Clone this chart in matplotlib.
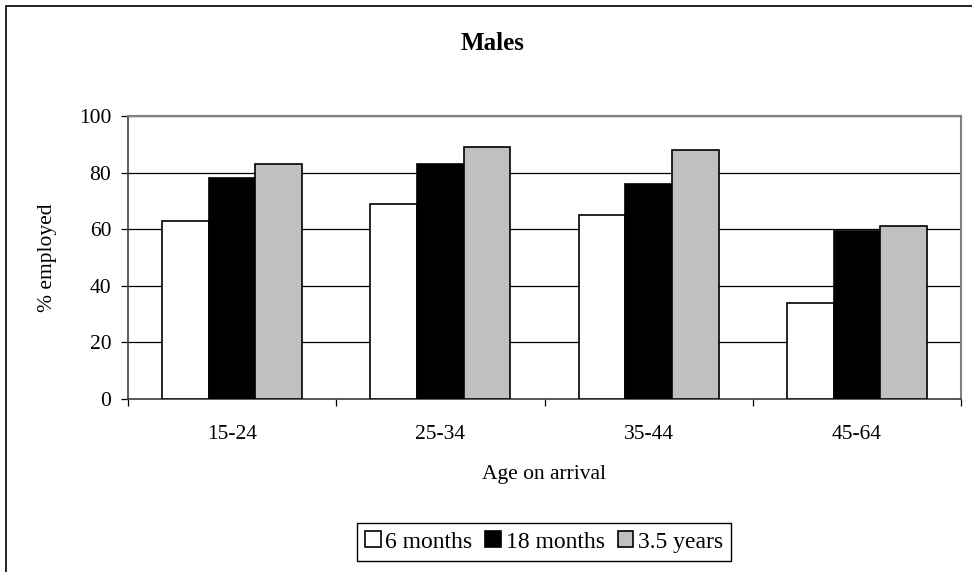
import matplotlib
matplotlib.use('Agg')
import matplotlib.pyplot as plt
from matplotlib.patches import Rectangle

plt.rcParams['font.family'] = ['Liberation Serif', 'DejaVu Serif']

# data
ages = ['15-24', '25-34', '35-44', '45-64']
six_months = [63, 69, 65, 34]
eighteen_months = [78, 83, 76, 59.5]
three_half_years = [83, 89, 88, 61]
series_names = ['6 months', '18 months', '3.5 years']
series_colors = ['white', 'black', '#C0C0C0']

W, H = 972, 572
fig = plt.figure(figsize=(W / 100, H / 100), dpi=100)

# axes placed in pixel terms of the original
left, right, top, bottom = 128, 961, 116, 399
ax = fig.add_axes([left / W, 1 - bottom / H, (right - left) / W, (bottom - top) / H])

x = list(range(len(ages)))
bw = 0.224
for i, (vals, name, col) in enumerate(zip([six_months, eighteen_months, three_half_years],
                                          series_names, series_colors)):
    xs = [xi + (i - 1) * bw for xi in x]
    ax.bar(xs, vals, width=bw, color=col, edgecolor='black', linewidth=1.2,
           label=name, zorder=3)

ax.set_xlim(-0.5, len(ages) - 0.5)
ax.set_ylim(0, 100)
ax.set_yticks(range(0, 101, 20))
ax.yaxis.grid(True, color='black', linewidth=0.9, zorder=0)
ax.tick_params(axis='y', direction='out', length=5, width=0.9, labelsize=15.5, pad=7)

# category boundary ticks (major), labels on minor ticks at centres
ax.set_xticks([b - 0.5 for b in range(len(ages) + 1)])
ax.set_xticklabels([])
ax.set_xticks(x, minor=True)
ax.set_xticklabels(ages, minor=True)
ax.tick_params(axis='x', which='major', direction='out', length=5, width=0.9)
ax.tick_params(axis='x', which='minor', length=0, labelsize=15.5, pad=19)

for s in ['top', 'right']:
    ax.spines[s].set_color('#808080')
    ax.spines[s].set_linewidth(1.5)
ax.spines['left'].set_color('#404040')
ax.spines['bottom'].set_color('#404040')
ax.spines['left'].set_linewidth(1.2)
ax.spines['bottom'].set_linewidth(1.2)

ax.set_ylabel('% employed', fontsize=15.5)
ax.yaxis.set_label_coords((57 - left) / (right - left), 0.5)

fig.text(493 / W, 1 - 43 / H, 'Males', ha='center', va='center',
         fontsize=18, fontweight='bold')
fig.text(544 / W, 1 - 474 / H, 'Age on arrival', ha='center', va='center', fontsize=15.5)

leg = fig.legend(loc='center', bbox_to_anchor=(544 / W, 1 - 542 / H), ncol=3,
                 fontsize=17, frameon=True, fancybox=False, framealpha=1,
                 edgecolor='black', handlelength=0.65, handleheight=0.65,
                 handletextpad=0.2, columnspacing=0.55, borderpad=0.35)
leg.get_frame().set_linewidth(1.0)

# outer chart frame (only top and left visible in the crop)
fig.patches.append(Rectangle((6 / W, -0.5), 2, 1 - 6 / H + 0.5, transform=fig.transFigure,
                             fill=False, edgecolor='black', linewidth=1.2))

fig.savefig('out.png', dpi=100)
